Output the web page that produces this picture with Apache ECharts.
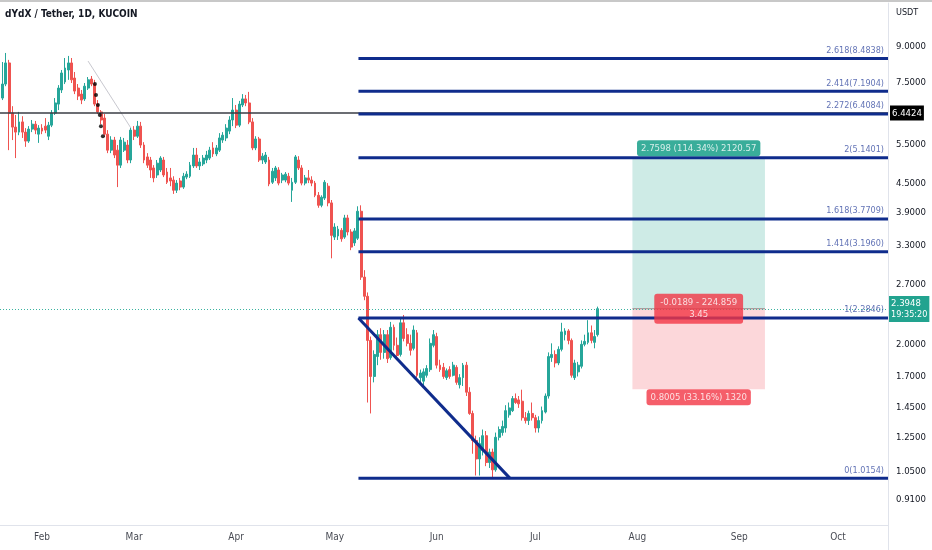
<!DOCTYPE html>
<html><head><meta charset="utf-8">
<script src="https://cdn.jsdelivr.net/npm/echarts@6/dist/echarts.min.js"></script>
<style>html,body{margin:0;padding:0;background:#fff}#c{width:932px;height:550px}</style>
</head><body><div id="c"></div><script>
// ---------- data ----------
const title = 'dYdX / Tether, 1D, KUCOIN';
const currency = 'USDT';
const candleStartDate = '2022-01-20';
// [open, close, low, high] per daily candle
const candles = [
[6.95,7.46,6.88,8.34],[7.46,8.30,7.38,8.73],[8.30,6.44,5.34,8.43],[6.44,6.00,5.62,6.67],[6.00,5.85,5.13,6.38],
[5.85,6.16,5.76,6.48],[6.16,5.85,5.68,6.34],[5.85,5.59,5.43,5.97],[5.59,5.94,5.54,6.03],[5.94,6.09,5.85,6.22],
[6.09,5.91,5.79,6.19],[5.79,5.97,5.54,6.06],[5.97,5.88,5.79,6.09],[6.03,5.91,5.82,6.28],[5.73,6.06,5.62,6.16],
[6.06,6.44,6.00,6.54],[6.44,6.78,6.38,6.95],[6.74,7.31,6.54,7.42],[7.24,7.89,7.13,8.01],[7.54,8.09,7.46,8.51],
[8.01,8.30,7.62,8.60],[8.30,7.62,7.50,8.51],[7.69,7.20,7.09,7.93],[7.31,7.02,6.88,7.46],[7.09,6.88,6.74,7.24],
[6.92,7.38,6.85,7.50],[7.31,7.62,7.24,7.73],[7.65,7.46,7.38,7.77],[7.46,6.74,6.67,7.62],[6.74,6.48,6.41,6.88],
[6.48,6.22,6.09,6.54],[6.28,5.79,5.71,6.41],[5.79,5.34,5.26,5.91],[5.34,5.62,5.26,5.73],[5.62,5.21,5.13,5.71],
[5.34,4.95,4.43,5.48],[4.95,5.62,4.88,5.71],[5.34,5.56,5.29,5.68],[5.48,5.08,5.00,5.62],[5.08,5.91,5.00,6.00],
[5.91,5.73,5.62,6.03],[5.73,6.03,5.68,6.19],[6.03,5.48,5.40,6.16],[5.48,5.08,5.00,5.56],[5.16,4.95,4.88,5.26],
[5.08,4.83,4.64,5.16],[4.88,4.64,4.54,4.95],[4.71,5.00,4.64,5.08],[4.83,5.13,4.78,5.18],[5.08,4.71,4.66,5.16],
[4.78,4.54,4.50,4.88],[4.64,4.57,4.45,4.88],[4.59,4.36,4.28,4.68],[4.36,4.52,4.30,4.59],[4.57,4.43,4.36,4.64],
[4.43,4.68,4.39,4.76],[4.66,4.73,4.61,4.80],[4.68,4.95,4.64,5.03],[4.93,5.21,4.88,5.40],[5.21,4.93,4.88,5.40],
[4.93,5.03,4.83,5.13],[4.98,5.13,4.93,5.21],[5.08,5.21,5.00,5.32],[5.13,5.34,5.08,5.43],[5.40,5.24,5.16,5.56],
[5.24,5.40,5.18,5.48],[5.34,5.68,5.29,5.82],[5.62,5.76,5.54,5.85],[5.68,5.97,5.59,6.09],[5.88,6.22,5.79,6.34],
[6.22,6.54,6.03,6.95],[6.54,6.06,5.97,6.71],[6.06,6.74,6.00,6.85],[6.71,6.92,6.64,7.09],[6.92,6.78,6.67,7.06],
[6.78,6.16,6.09,7.17],[6.16,5.40,5.34,6.28],[5.40,5.65,5.34,5.73],[5.65,5.08,5.03,5.71],[5.08,5.18,4.98,5.26],
[5.03,5.21,4.98,5.29],[5.08,4.50,4.45,5.16],[4.54,4.80,4.50,4.88],[4.64,4.88,4.57,4.93],[4.83,4.52,4.47,4.90],
[4.59,4.71,4.52,4.76],[4.59,4.73,4.54,4.78],[4.68,4.52,4.47,4.76],[4.36,4.54,4.11,4.64],[4.54,5.16,4.50,5.21],
[5.08,4.88,4.83,5.18],[4.88,4.52,4.47,4.95],[4.52,4.64,4.47,4.71],[4.64,4.59,4.52,4.83],[4.59,4.52,4.45,4.68],
[4.52,4.25,4.21,4.57],[4.25,4.04,3.99,4.32],[4.04,4.21,4.00,4.25],[4.19,4.54,4.15,4.59],[4.45,4.09,4.02,4.52],
[4.09,3.47,3.09,4.15],[3.44,3.62,3.39,3.69],[3.46,3.58,3.39,3.64],[3.56,3.41,3.36,3.60],[3.44,3.79,3.41,3.85],
[3.79,3.53,3.47,3.85],[3.53,3.27,3.22,3.58],[3.34,3.55,3.29,3.60],[3.42,3.92,3.39,4.02],[3.92,2.81,2.77,4.04],
[2.81,2.55,2.50,2.91],[2.55,2.04,1.49,2.60],[2.04,1.70,1.41,2.08],[1.70,1.90,1.65,1.94],[1.88,2.10,1.80,2.15],
[2.10,1.92,1.85,2.17],[1.92,2.10,1.86,2.15],[2.10,1.86,1.82,2.15],[1.87,2.18,1.85,2.24],[2.18,1.99,1.94,2.21],
[1.99,1.89,1.85,2.07],[1.90,2.23,1.88,2.28],[2.23,2.06,2.03,2.32],[2.10,2.01,1.98,2.17],[2.01,1.94,1.89,2.10],
[1.96,2.15,1.94,2.20],[2.12,1.71,1.69,2.15],[1.69,1.73,1.63,1.76],[1.66,1.74,1.61,1.77],[1.71,1.77,1.69,1.80],
[1.76,2.01,1.74,2.06],[1.99,2.10,1.97,2.15],[2.08,1.80,1.77,2.12],[1.80,1.76,1.74,1.85],[1.78,1.70,1.68,1.82],
[1.69,1.75,1.67,1.77],[1.76,1.70,1.68,1.79],[1.71,1.80,1.70,1.83],[1.78,1.65,1.63,1.80],[1.63,1.69,1.60,1.72],
[1.69,1.80,1.62,1.82],[1.80,1.57,1.54,1.83],[1.57,1.41,1.40,1.61],[1.41,1.23,1.15,1.43],[1.23,1.12,1.03,1.26],
[1.12,1.21,1.03,1.25],[1.17,1.26,1.14,1.30],[1.26,1.10,1.08,1.29],[1.10,1.16,1.07,1.18],[1.16,1.06,1.0154,1.18],
[1.06,1.25,1.05,1.28],[1.25,1.30,1.23,1.32],[1.28,1.32,1.26,1.36],[1.31,1.43,1.28,1.47],[1.40,1.45,1.38,1.49],
[1.43,1.52,1.42,1.54],[1.52,1.49,1.48,1.56],[1.51,1.48,1.45,1.54],[1.50,1.38,1.36,1.59],[1.38,1.36,1.34,1.42],
[1.36,1.41,1.33,1.43],[1.41,1.38,1.36,1.49],[1.38,1.31,1.28,1.40],[1.31,1.36,1.28,1.39],[1.36,1.43,1.34,1.46],
[1.42,1.54,1.41,1.56],[1.54,1.88,1.52,1.92],[1.87,1.90,1.83,2.01],[1.90,1.82,1.78,1.94],[1.82,1.95,1.80,1.98],
[1.95,2.13,1.93,2.23],[2.10,2.14,2.04,2.17],[2.14,2.04,2.00,2.16],[2.04,1.71,1.69,2.06],[1.69,1.82,1.67,1.85],
[1.74,1.80,1.70,1.83],[1.79,2.00,1.77,2.04],[2.00,2.03,1.98,2.10],[2.02,2.12,2.00,2.26],[2.12,2.04,2.01,2.20],
[2.02,2.08,1.96,2.15],[2.10,2.3948,2.08,2.42]
];
const yTickValues = [9.0, 7.5, 5.5, 4.5, 3.9, 3.3, 2.7, 2.0, 1.7, 1.45, 1.25, 1.05, 0.91];
const monthTicks = ['2022-02-01','2022-03-01','2022-04-01','2022-05-01','2022-06-01','2022-07-01','2022-08-01','2022-09-01','2022-10-01'];
const monthNames = ['Jan','Feb','Mar','Apr','May','Jun','Jul','Aug','Sep','Oct','Nov','Dec'];
const fibRatios = ['2.618','2.414','2.272','2','1.618','1.414','1','0'];
const fibPrices = [8.4838, 7.1904, 6.4084, 5.1401, 3.7709, 3.1960, 2.2846, 1.0154];
const fibStart = '2022-05-08T05:00:00Z';
const triangleEnd = '2022-06-23T07:00:00Z';
const resistancePrice = 6.4424;
const lastPrice = 2.3948;
const countdown = '19:35:20';
const boxStart = '2022-07-30T12:00:00Z';
const boxEnd = '2022-09-08T19:00:00Z';
const entryPrice = 2.3948, targetPrice = 5.1546, stopPrice = 1.5943;
const targetText = '2.7598 (114.34%) 2120.57';
const midText = ['-0.0189 - 224.859', '3.45'];
const stopText = '0.8005 (33.16%) 1320';
const trendPoints = [['2022-02-15T00:00:00Z', 8.38], ['2022-02-28T01:00:00Z', 5.97]];
const dotPoints = [['2022-02-17T02:00:00Z',7.46],['2022-02-17T10:00:00Z',7.06],['2022-02-18T00:00:00Z',6.71],
  ['2022-02-18T14:00:00Z',6.38],['2022-02-18T22:00:00Z',6.03],['2022-02-19T12:00:00Z',5.73]];
const axisMinDate = '2022-01-19T05:30:00Z';
const axisMaxDate = '2022-10-16T04:50:00Z';
const yMin = 0.802, yMax = 11.24;

// ---------- chart ----------
const DAY = 86400000;
const ts = s => Date.parse(s.length === 10 ? s + 'T00:00:00Z' : s);
const t0 = ts(candleStartDate);
const xMin = ts(axisMinDate), xMax = ts(axisMaxDate);
const FONT = "'Liberation Sans Narrow','DejaVu Sans Condensed',Roboto,sans-serif";
const NAVY = '#0f2c8c';
const UP = '#26a69a', DOWN = '#ef5350';
const boxMid = (ts(boxStart) + ts(boxEnd)) / 2;

const series = [];
// position box (areas)
series.push({
  type: 'line', silent: true, symbol: 'none', z: 1,
  data: [[ts(boxStart), entryPrice], [ts(boxEnd), entryPrice]],
  lineStyle: { color: '#9b8f8f', width: 1 },
  markArea: {
    silent: true,
    data: [
      [{ coord: [ts(boxStart), entryPrice], itemStyle: { color: 'rgba(8,153,129,0.2)' } }, { coord: [ts(boxEnd), targetPrice] }],
      [{ coord: [ts(boxStart), stopPrice], itemStyle: { color: 'rgba(242,54,69,0.2)' } }, { coord: [ts(boxEnd), entryPrice] }]
    ]
  }
});
// candles
series.push({
  type: 'candlestick', z: 3, barWidth: 2.4,
  data: candles.map((c, i) => [t0 + i * DAY, c[0], c[1], c[2], c[3]]),
  itemStyle: { color: UP, color0: DOWN, borderColor: UP, borderColor0: DOWN, borderWidth: 1 },
  markLine: {
    silent: true, symbol: 'none', animation: false,
    data: [
      { yAxis: resistancePrice, lineStyle: { color: '#3a3d45', width: 1.5, type: 'solid' },
        label: { show: true, position: 'end', distance: 2, formatter: resistancePrice.toFixed(4),
          backgroundColor: '#000', color: '#fff', padding: [3, 2, 2, 2], fontSize: 9.5, fontFamily: FONT } },
      { yAxis: lastPrice, lineStyle: { color: '#3bb3a0', width: 1, type: [1, 2] },
        label: { show: true, position: 'end', distance: 1,
          formatter: '{a|' + lastPrice.toFixed(4) + '}\n{b|' + countdown + '}',
          backgroundColor: '#22a38f', padding: [2, 2, 2, 2], fontFamily: FONT,
          rich: { a: { fontSize: 9.5, color: '#fff', lineHeight: 11, fontFamily: FONT },
                  b: { fontSize: 9, color: '#fff', lineHeight: 11, fontFamily: FONT } } } }
    ]
  }
});
// thin trendline
series.push({ type: 'line', silent: true, symbol: 'none', z: 4, data: trendPoints.map(p => [ts(p[0]), p[1]]),
  lineStyle: { color: '#c8c8cf', width: 1 } });
// dots
series.push({ type: 'scatter', silent: true, z: 6, symbolSize: 4, itemStyle: { color: '#000' },
  data: dotPoints.map(p => [ts(p[0]), p[1]]) });
// fib levels
fibPrices.forEach(p => {
  series.push({ type: 'line', silent: true, symbol: 'none', z: 5,
    data: [[ts(fibStart), p], [xMax, p]], lineStyle: { color: NAVY, width: 3 } });
});
// triangle diagonal
series.push({ type: 'line', silent: true, symbol: 'none', z: 5,
  data: [[ts(fibStart), fibPrices[6]], [ts(triangleEnd), fibPrices[7]]], lineStyle: { color: NAVY, width: 3 } });
// fib labels
series.push({ type: 'scatter', silent: true, z: 7, symbolSize: 0, clip: false,
  data: fibPrices.map((p, k) => ({ value: [xMax, p], label: { formatter: fibRatios[k] + '(' + p.toFixed(4) + ')' } })),
  label: { show: true, position: 'left', distance: 4, offset: [0, -8], color: '#3a4fa3', fontSize: 9, fontFamily: FONT } });
// position labels
series.push({ type: 'scatter', silent: true, z: 8, symbolSize: 0, clip: false,
  data: [
    { value: [boxMid, targetPrice], label: { position: 'top', distance: 1, formatter: targetText, backgroundColor: '#089981', padding: [3, 4, 3, 4] } },
    { value: [boxMid, entryPrice], label: { position: 'inside', formatter: midText.join('\n'), backgroundColor: '#f23645', padding: [3, 6, 3, 6], lineHeight: 12 } },
    { value: [boxMid, stopPrice], label: { position: 'bottom', distance: 0, formatter: stopText, backgroundColor: '#f23645', padding: [3, 4, 3, 4] } }
  ],
  label: { show: true, color: '#fff', fontSize: 9.5, borderRadius: 3, fontFamily: FONT } });
// month labels (at axis bottom)
series.push({ type: 'scatter', silent: true, z: 8, symbolSize: 0, clip: false,
  data: monthTicks.map(m => ({ value: [ts(m), yMin], label: { formatter: monthNames[new Date(ts(m)).getUTCMonth()] } })),
  label: { show: true, position: 'bottom', distance: 7, color: '#131722', fontSize: 10, fontFamily: FONT } });

const chart = echarts.init(document.getElementById('c'), null, { renderer: 'canvas' });
chart.setOption({
  animation: false,
  backgroundColor: '#fff',
  grid: { left: 0, right: 44, top: 3, bottom: 25, containLabel: false, outerBoundsMode: 'none' },
  xAxis: {
    type: 'time', min: xMin, max: xMax,
    axisLine: { show: true, lineStyle: { color: '#e0e3eb' } },
    axisTick: { show: false }, splitLine: { show: false },
    axisLabel: { show: false }
  },
  yAxis: {
    type: 'log', logBase: 10, position: 'right', min: yMin, max: yMax,
    axisLine: { show: true, lineStyle: { color: '#e0e3eb' } },
    axisTick: { show: false }, splitLine: { show: false }, minorTick: { show: false }, minorSplitLine: { show: false },
    axisLabel: { customValues: yTickValues, formatter: v => Number(v).toFixed(4),
      color: '#131722', fontSize: 9.5, margin: 8, fontFamily: FONT, hideOverlap: false }
  },
  graphic: [
    { type: 'line', shape: { x1: 0, y1: 1, x2: 932, y2: 1 }, style: { stroke: '#c8c8c8', lineWidth: 2 } },
    { type: 'line', shape: { x1: 888.5, y1: 525, x2: 888.5, y2: 550 }, style: { stroke: '#e0e3eb', lineWidth: 1 } },
    { type: 'text', left: 5, top: 9, style: { text: title, fontSize: 10, fontWeight: 'bold', fill: '#131722', fontFamily: FONT } },
    { type: 'text', left: 896, top: 8, style: { text: currency, fontSize: 9, fill: '#131722', fontFamily: FONT } }
  ],
  series: series
});
</script></body></html>
